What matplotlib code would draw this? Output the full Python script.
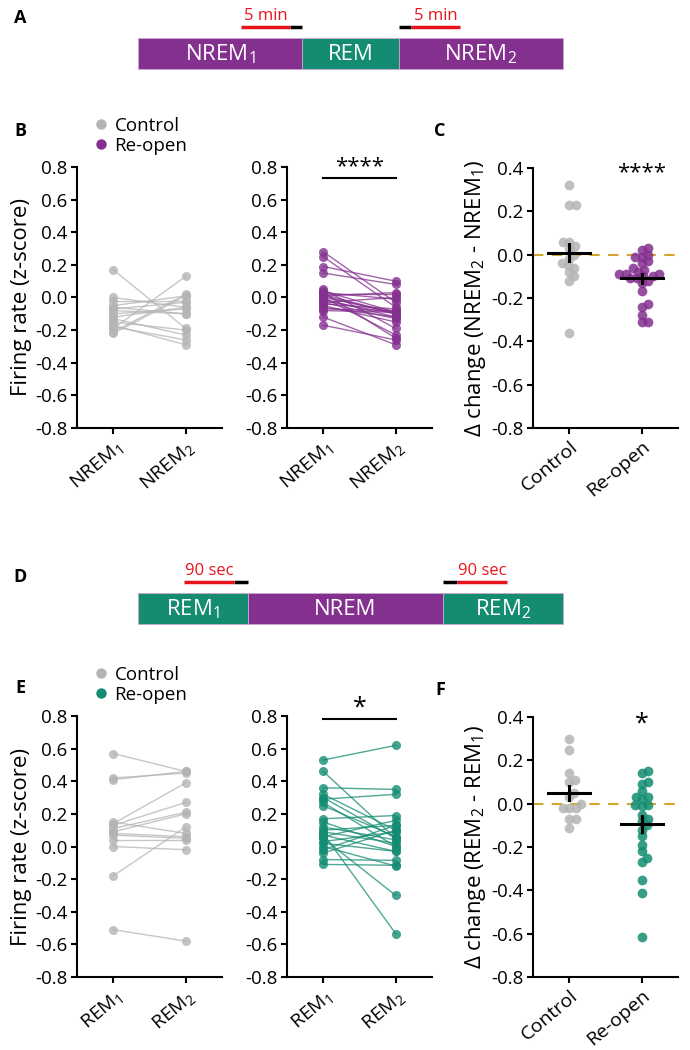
import numpy as np
import matplotlib
matplotlib.use('Agg')
import matplotlib.pyplot as plt
from matplotlib.lines import Line2D

plt.rcParams['font.family'] = ['Open Sans', 'DejaVu Sans']
plt.rcParams['mathtext.fontset'] = 'custom'
plt.rcParams['mathtext.rm'] = 'Open Sans'
plt.rcParams['mathtext.it'] = 'Open Sans:italic'
plt.rcParams['mathtext.bf'] = 'Open Sans:bold'
plt.rcParams['axes.unicode_minus'] = False

PURPLE = '#84308F'
GREEN = '#138C72'
GRAY = '#B4B4B4'
GOLD = '#D4A72C'
RED = '#E8141B'

# ---- schematic data ----
a_segments = ['NREM$_1$', 'REM', 'NREM$_2$']
a_colors = [PURPLE, GREEN, PURPLE]
a_dur = [17, 10, 17]
a_window, a_gap, a_window_label = 5, 1.3, '5 min'

d_segments = ['REM$_1$', 'NREM', 'REM$_2$']
d_colors = [GREEN, PURPLE, GREEN]
d_dur = [11, 19.5, 12]
d_window, d_gap, d_window_label = 5, 1.4, '90 sec'

# ---- panel B: NREM firing rate (z-score) ----
nrem_labels = ['NREM$_1$', 'NREM$_2$']
nrem_ctrl_1 = [0.17, -0.19, -0.21, -0.22, -0.05, -0.12, -0.07, -0.10,
               -0.02, -0.08, -0.06, -0.15, 0.00, -0.18, -0.13, -0.17]
nrem_ctrl_2 = [-0.19, 0.13, 0.02, 0.01, 0.01, -0.06, -0.03, -0.07,
               -0.02, -0.10, -0.10, -0.20, -0.06, -0.26, -0.23, -0.29]
nrem_reop_1 = [0.28, 0.25, 0.19, 0.15, 0.03, 0.05, 0.00, -0.12, 0.04, 0.02,
               -0.01, 0.01, -0.03, -0.05, 0.00, -0.02, -0.06, 0.03, -0.04,
               -0.08, -0.07, -0.17, 0.01, -0.03, 0.02]
nrem_reop_2 = [-0.03, -0.06, 0.10, 0.08, -0.25, -0.19, -0.23, -0.29, -0.09, -0.10,
               -0.12, -0.10, -0.13, -0.15, -0.09, -0.10, -0.12, -0.01, -0.07,
               -0.09, -0.08, -0.26, 0.03, 0.00, 0.02]

# ---- panel E: REM firing rate (z-score) ----
rem_labels = ['REM$_1$', 'REM$_2$']
rem_ctrl_1 = [0.57, 0.42, 0.41, 0.14, 0.13, 0.11, 0.09, -0.18, 0.15, 0.08,
              0.04, 0.00, -0.51, 0.07]
rem_ctrl_2 = [0.46, 0.45, 0.46, 0.39, 0.27, 0.21, 0.20, 0.12, 0.08, 0.06,
              0.04, -0.02, -0.58, 0.05]
rem_reop_1 = [0.53, 0.46, 0.36, 0.32, 0.29, 0.27, 0.25, 0.17, 0.10, 0.08,
              0.05, 0.06, 0.09, 0.07, 0.03, -0.02, -0.04, -0.08, -0.11, 0.30,
              0.02, 0.12, 0.00, 0.15]
rem_reop_2 = [0.62, 0.05, 0.35, 0.10, 0.32, 0.00, 0.06, 0.19, 0.13, -0.535,
              -0.30, 0.16, 0.02, -0.03, 0.09, 0.13, 0.10, -0.085, -0.115, 0.05,
              -0.03, 0.04, -0.12, 0.00]

groups = ['Control', 'Re-open']

W, H = 690, 1050
fig = plt.figure(figsize=(W / 100, H / 100), dpi=100)

ov = fig.add_axes([0, 0, 1, 1])
ov.set_xlim(0, W)
ov.set_ylim(H, 0)
ov.axis('off')


def px_axes(x0, y_top, w, h):
    return fig.add_axes([x0 / W, 1 - (y_top + h) / H, w / W, h / H])


def style(ax, ylim, yticks, xlabels):
    for s in ['top', 'right']:
        ax.spines[s].set_visible(False)
    for s in ['left', 'bottom']:
        ax.spines[s].set_linewidth(1.5)
    ax.set_xlim(0.5, 2.5)
    ax.set_ylim(*ylim)
    ax.set_yticks(yticks)
    ax.set_yticklabels(['%.1f' % t for t in yticks])
    ax.set_xticks([1, 2])
    ax.set_xticklabels(xlabels, rotation=40, ha='right', rotation_mode='anchor')
    ax.tick_params(direction='out', length=4, width=1.5, labelsize=13.5, pad=3)
    ax.tick_params(axis='x', labelsize=14)


def paired(ax, v1, v2, color):
    v1, v2 = np.array(v1), np.array(v2)
    n = len(v1)
    xs = np.vstack([np.ones(n), 2 * np.ones(n)])
    ax.plot(xs, np.vstack([v1, v2]), color=color, lw=1.0, alpha=0.75, zorder=2)
    ax.plot(np.ones(n), v1, 'o', ms=6.5, color=color, mec='none', alpha=0.8, zorder=3)
    ax.plot(2 * np.ones(n), v2, 'o', ms=6.5, color=color, mec='none', alpha=0.8, zorder=3)


def swarm(values, py, px, diam):
    values = np.asarray(values)
    placed = []
    offs = np.zeros(len(values))
    for i in np.argsort(values):
        y = values[i] * py
        cands = [0.0]
        for (qx, qy) in placed:
            dy = y - qy
            if abs(dy) < diam:
                dx = np.sqrt(diam ** 2 - dy ** 2)
                cands += [qx + dx, qx - dx]
        cands.sort(key=abs)
        for c in cands:
            if all((c - qx) ** 2 + (y - qy) ** 2 >= diam ** 2 - 1e-6 for qx, qy in placed):
                break
        placed.append((c, y))
        offs[i] = c / px
    return offs


def delta_panel(ax, d_ctrl, d_reop, color):
    py = 260 / 1.2
    for k, (d, c) in enumerate([(d_ctrl, GRAY), (d_reop, color)]):
        d = np.array(d)
        x = k + 1 + swarm(d, py, 73, 6.5)
        ax.plot(x, d, 'o', ms=7, color=c, mec='none', alpha=0.85, zorder=3)
        m = d.mean()
        sem = d.std(ddof=1) / np.sqrt(len(d))
        ax.plot([k + 1 - 0.29, k + 1 + 0.29], [m, m], color='k', lw=2.2, zorder=4)
        ax.plot([k + 1, k + 1], [m - sem, m + sem], color='k', lw=2.2, zorder=4)
    ax.axhline(0, color=GOLD, ls=(0, (5, 4)), lw=1.5, zorder=1)


def schematic(y_top, segs, cols, dur, window, gap, wlabel):
    x0, x1, hgt = 138, 563, 31
    scale = (x1 - x0) / sum(dur)
    lefts = x0 + scale * np.concatenate([[0], np.cumsum(dur)[:-1]])
    widths = scale * np.array(dur)
    ov.barh(y_top + hgt / 2, widths, left=lefts, height=hgt, color=cols,
            edgecolor='#C9A7CF', lw=0.6)
    for l, w, s in zip(lefts, widths, segs):
        ov.text(l + w / 2, y_top + hgt / 2 + 1, s, color='white', fontsize=16,
                ha='center', va='center')
    yb = y_top - 11
    e1 = lefts[1]
    s2 = lefts[2]
    ov.plot([e1 - gap * scale, e1], [yb, yb], color='k', lw=2.5, solid_capstyle='butt')
    ov.plot([e1 - (gap + window) * scale, e1 - gap * scale], [yb, yb], color=RED, lw=2.5,
            solid_capstyle='butt')
    ov.plot([s2, s2 + gap * scale], [yb, yb], color='k', lw=2.5, solid_capstyle='butt')
    ov.plot([s2 + gap * scale, s2 + (gap + window) * scale], [yb, yb], color=RED, lw=2.5,
            solid_capstyle='butt')
    ov.text(e1 - (gap + window / 2) * scale, yb - 3, wlabel, color=RED, fontsize=12,
            ha='center', va='bottom')
    ov.text(s2 + (gap + window / 2) * scale, yb - 3, wlabel, color=RED, fontsize=12,
            ha='center', va='bottom')


schematic(38, a_segments, a_colors, a_dur, a_window, a_gap, a_window_label)
schematic(593, d_segments, d_colors, d_dur, d_window, d_gap, d_window_label)

yt_fr = [0.8, 0.6, 0.4, 0.2, 0.0, -0.2, -0.4, -0.6, -0.8]
yt_d = [0.4, 0.2, 0.0, -0.2, -0.4, -0.6, -0.8]

# row B / C
axB1 = px_axes(77, 167, 145, 261)
paired(axB1, nrem_ctrl_1, nrem_ctrl_2, GRAY)
style(axB1, (-0.8, 0.8), yt_fr, nrem_labels)
axB1.set_ylabel('Firing rate (z-score)', fontsize=16, labelpad=2)

axB2 = px_axes(287, 167, 145, 261)
paired(axB2, nrem_reop_1, nrem_reop_2, PURPLE)
style(axB2, (-0.8, 0.8), yt_fr, nrem_labels)
axB2.plot([1, 2], [0.73, 0.73], color='k', lw=1.5, clip_on=False)
axB2.text(1.5, 0.74, '****', ha='center', va='bottom', fontsize=16)

axC = px_axes(533, 168, 145, 260)
delta_panel(axC, np.array(nrem_ctrl_2) - np.array(nrem_ctrl_1),
            np.array(nrem_reop_2) - np.array(nrem_reop_1), PURPLE)
style(axC, (-0.8, 0.4), yt_d, groups)
axC.set_ylabel('Δ change (NREM$_2$ - NREM$_1$)', fontsize=16, labelpad=2)
axC.text(2, 0.33, '****', ha='center', va='bottom', fontsize=16)

# row E / F
axE1 = px_axes(77, 716, 145, 261)
paired(axE1, rem_ctrl_1, rem_ctrl_2, GRAY)
style(axE1, (-0.8, 0.8), yt_fr, rem_labels)
axE1.set_ylabel('Firing rate (z-score)', fontsize=16, labelpad=2)

axE2 = px_axes(287, 716, 145, 261)
paired(axE2, rem_reop_1, rem_reop_2, GREEN)
style(axE2, (-0.8, 0.8), yt_fr, rem_labels)
axE2.plot([1, 2], [0.78, 0.78], color='k', lw=1.5, clip_on=False)
axE2.text(1.5, 0.77, '*', ha='center', va='bottom', fontsize=18)

axF = px_axes(533, 717, 145, 260)
delta_panel(axF, np.array(rem_ctrl_2) - np.array(rem_ctrl_1),
            np.array(rem_reop_2) - np.array(rem_reop_1), GREEN)
style(axF, (-0.8, 0.4), yt_d, groups)
axF.set_ylabel('Δ change (REM$_2$ - REM$_1$)', fontsize=16, labelpad=2)
axF.text(2, 0.31, '*', ha='center', va='bottom', fontsize=18)

# legends
for y0, col in [(117, PURPLE), (666, GREEN)]:
    h = [Line2D([], [], marker='o', ls='', color=GRAY, ms=7.5, mec='none'),
         Line2D([], [], marker='o', ls='', color=col, ms=7.5, mec='none')]
    fig.legend(h, groups, loc='upper left', bbox_to_anchor=(90 / W, 1 - y0 / H),
               frameon=False, fontsize=13.5, handletextpad=0.1, labelspacing=0.1,
               borderpad=0, borderaxespad=0, handlelength=1.2)

# panel letters
for lab, x, y in [('A', 20, 18), ('B', 20, 131), ('C', 440, 131),
                  ('D', 20, 577), ('E', 20, 688), ('F', 440, 690)]:
    fig.text(x / W, 1 - y / H, lab, fontsize=13, fontweight='bold', ha='center',
             va='center')

fig.savefig('out.png', dpi=100)
